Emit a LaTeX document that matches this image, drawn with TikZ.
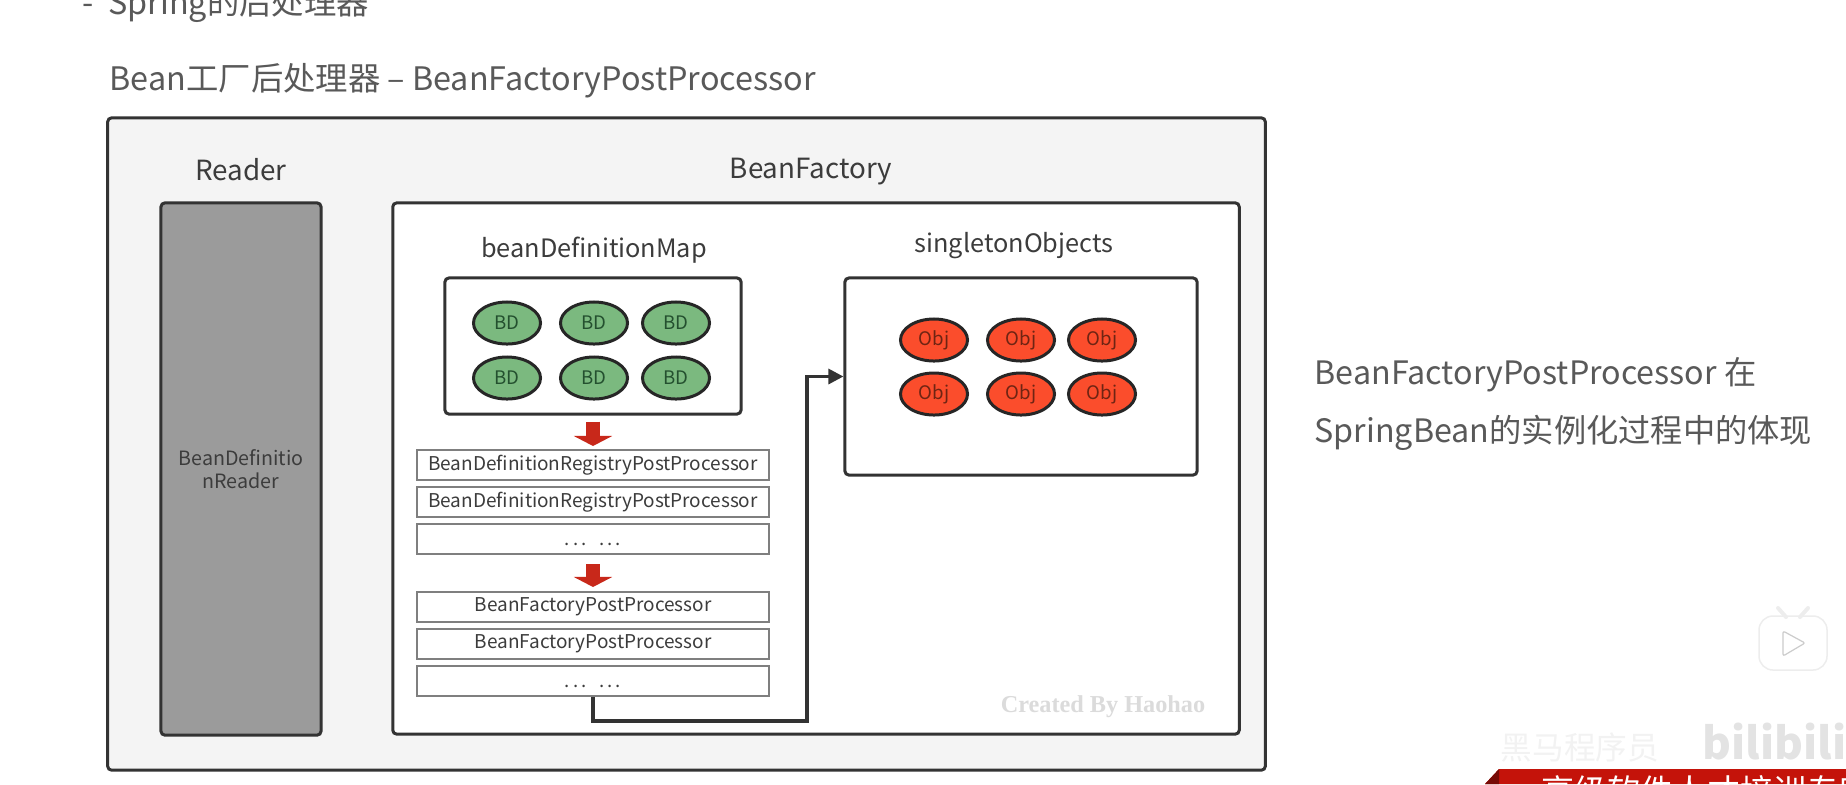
\documentclass[tikz,border=0pt]{standalone}
\usepackage{xcolor}
\usepackage{fontspec}
\setmainfont{Noto Sans CJK SC}
\newfontfamily\wmfont{Liberation Serif}[BoldFont={Liberation Serif Bold}]
\usetikzlibrary{arrows.meta,shapes.geometric}
\definecolor{ptink}{HTML}{3C3C3C}
\definecolor{ptedge}{HTML}{333333}
\definecolor{ptpanel}{HTML}{F4F4F4}
\definecolor{ptgray}{HTML}{9B9B9B}
\definecolor{ptrule}{HTML}{7F7F7F}
\definecolor{ptgreen}{HTML}{7BB97F}
\definecolor{ptgreentx}{HTML}{24502F}
\definecolor{ptred}{HTML}{FB4D2C}
\definecolor{ptredtx}{HTML}{6E2413}
\definecolor{ptarrow}{HTML}{C8281A}
\definecolor{ptbanner}{HTML}{C4130A}
\tikzset{
  ptbox/.style    ={rectangle, rounded corners=0.04cm, draw=ptedge, line width=0.03cm, inner sep=0pt},
  ptouter/.style  ={ptbox, fill=ptpanel, minimum width=11.57cm, minimum height=6.52cm},
  ptpane/.style   ={ptbox, fill=white},
  ptproc/.style   ={rectangle, draw=ptrule, fill=white, line width=0.02cm, inner sep=0pt,
                    minimum width=3.52cm, minimum height=0.3cm, text=ptink,
                    font=\fontsize{5.4}{6.5}\selectfont},
  ptbd/.style     ={ellipse, draw=black!85, fill=ptgreen, line width=0.03cm, inner sep=0pt,
                    minimum width=0.67cm, minimum height=0.42cm, text=ptgreentx,
                    font=\fontsize{5.3}{6.5}\selectfont},
  ptobj/.style    ={ptbd, fill=ptred, text=ptredtx},
  ptlbl/.style    ={text=ptink, font=\fontsize{7.9}{9.5}\selectfont},
  pthead/.style   ={text=ptink!85, anchor=west, inner sep=0pt, font=\fontsize{9.2}{11}\selectfont},
  ptdown/.style   ={-{Triangle[length=0.1cm,width=0.38cm]}, line width=0.14cm, draw=ptarrow},
  ptflow/.style   ={-{Triangle[length=0.15cm,width=0.15cm]}, line width=0.032cm, draw=ptedge},
}
\begin{document}
\begin{tikzpicture}[x=0.01cm,y=-0.01cm]
  \useasboundingbox (0,0) rectangle (1846,784);
  \node[pthead] (section) at (82,5) {-\ \ Spring的后处理器};
  \node[pthead] (title) at (109,81) {Bean工厂后处理器 – BeanFactoryPostProcessor};
  \node[ptouter] (outer) at (686.5,444) {};
  \node[ptlbl] (readerlbl) at (241,170) {Reader};
  \node[ptlbl] (factorylbl) at (811,172) {BeanFactory};
  \node[ptbox, fill=ptgray, minimum width=1.6cm, minimum height=5.32cm, align=center,
        text=ptink, font=\fontsize{5.6}{6.6}\selectfont] (reader) at (241,469)
       {BeanDefinitio\\nReader};
  \node[ptpane, minimum width=8.46cm, minimum height=5.31cm] (factory) at (816,468.5) {};
  \node[ptlbl, font=\fontsize{7.2}{8.5}\selectfont] (maplbl) at (594,250) {beanDefinitionMap};
  \node[ptlbl, font=\fontsize{7.2}{8.5}\selectfont] (objlbl) at (1014,246) {singletonObjects};
  \node[ptpane, minimum width=2.96cm, minimum height=1.36cm] (mapbox) at (593,346) {};
  \node[ptpane, minimum width=3.52cm, minimum height=1.97cm] (objbox) at (1021,376.5) {};
  \foreach \x/\col in {507/1,594/2,676/3}{
    \node[ptbd] (bda\col) at (\x,323) {BD};
    \node[ptbd] (bdb\col) at (\x,378) {BD};}
  \foreach \x/\col in {934/1,1021/2,1102/3}{
    \node[ptobj] (obja\col) at (\x,340) {Obj};
    \node[ptobj] (objb\col) at (\x,394) {Obj};}
  \node[ptproc] (proc1) at (593,465) {BeanDefinitionRegistryPostProcessor};
  \node[ptproc] (proc2) at (593,502) {BeanDefinitionRegistryPostProcessor};
  \node[ptproc] (proc3) at (593,539) {};
  \node[ptproc] (proc4) at (593,607) {BeanFactoryPostProcessor};
  \node[ptproc] (proc5) at (593,644) {BeanFactoryPostProcessor};
  \node[ptproc] (proc6) at (593,681) {};
  \node[text=ptink, font=\fontsize{5.3}{6.5}\selectfont] (dots1) at (593,544) {.\,.\,.\ \ \ .\,.\,.};
  \node[text=ptink, font=\fontsize{5.3}{6.5}\selectfont] (dots2) at (593,686) {.\,.\,.\ \ \ .\,.\,.};
  \draw[ptdown, shorten <=0.06cm, shorten >=0.03cm] (mapbox.south) -- (proc1.north);
  \draw[ptdown, shorten <=0.09cm, shorten >=0.04cm] (proc3.south) -- (proc4.north);
  \coordinate (turn) at (807,721);
  \draw[ptflow] (proc6.south) |- (turn) |- (objbox.west);
  \node[text=black!14, font=\wmfont\bfseries\fontsize{6.9}{8}\selectfont] (mark) at (1103,707) {Created By Haohao};
  \node[pthead, font=\fontsize{9.17}{11}\selectfont] (note1) at (1314,375) {BeanFactoryPostProcessor 在};
  \node[pthead, font=\fontsize{9.17}{11}\selectfont] (note2) at (1314,433) {SpringBean的实例化过程中的体现};
  % video overlay
  \node[rectangle, rounded corners=0.14cm, draw=black!7, fill=white, line width=0.015cm,
        minimum width=0.68cm, minimum height=0.54cm] (tv) at (1793,643) {};
  \draw[black!7, line width=0.04cm, line cap=round] (1778,608) -- (1786,617) (1808,608) -- (1800,617);
  \draw[black!20, fill=white, line width=0.012cm, rounded corners=0.02cm] (1783,631) -- (1805,643) -- (1783,656) -- cycle;
  \node[text=black!5, font=\fontsize{9}{11}\selectfont] (wm) at (1580,747) {黑马程序员};
  \node[text=black!11, font=\bfseries\fontsize{12.5}{15}\selectfont, anchor=west, inner sep=0pt] (bili) at (1702,742) {bilibili};
  \fill[ptbanner] (1499,769) -- (1846,769) -- (1846,784) -- (1485,784) -- cycle;
  \fill[ptbanner!60!black] (1499,769) -- (1499,784) -- (1485,784) -- cycle;
  \node[text=white, anchor=west, inner sep=0pt, font=\fontsize{9.4}{11}\selectfont] (banner) at (1541,791) {高级软件人才培训专家};
\end{tikzpicture}
\end{document}
